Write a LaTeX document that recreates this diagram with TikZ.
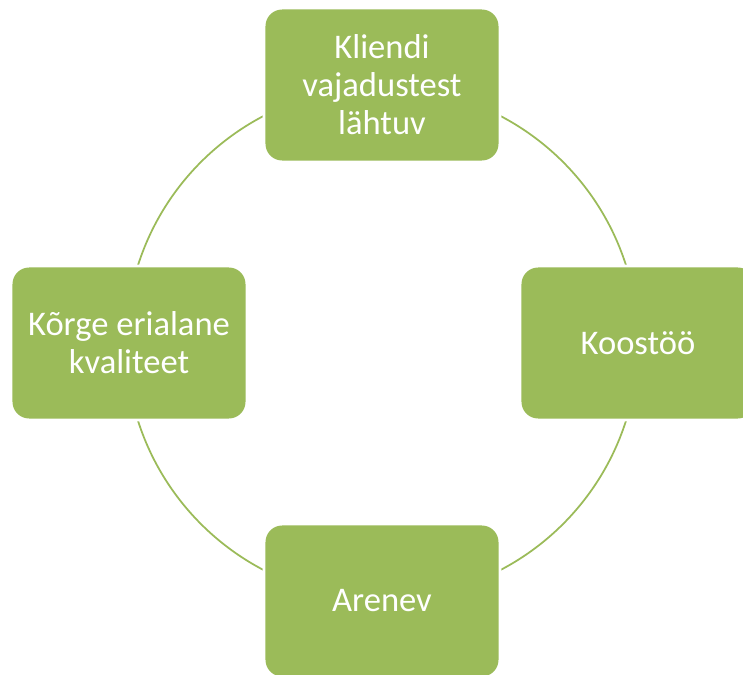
\documentclass[tikz,border=0pt]{standalone}
\usepackage{fontspec}
\setmainfont{Carlito}
\usetikzlibrary{positioning}
\definecolor{leafgreen}{HTML}{9BBB59}
\tikzset{
    value/.style={rectangle, rounded corners=0.5cm, fill=leafgreen, text=white,
        minimum width=6.99cm, minimum height=4.53cm, align=center,
        font=\fontsize{29.5}{32.5}\selectfont,
        preaction={draw=white, line width=5pt}}, % white rim cuts the ring
    ring/.style={circle, draw=leafgreen, line width=1.5pt, minimum size=15.36cm, inner sep=0pt},
}

\begin{document}
\begin{tikzpicture}[x=0.03cm, y=-0.03cm]
    \useasboundingbox (0,0) rectangle (743,675);
    \node[ring] (cycle) at (382,343) {};

    \node[value] (kliendi) at (382,85) {Kliendi\\vajadustest\\lähtuv};
    \node[value] (koostoo) at (638,343) {Koostöö};
    \node[value] (arenev) at (382,601) {Arenev};
    \node[value] (korge) at (129,343) {Kõrge erialane\\kvaliteet};
\end{tikzpicture}
\end{document}
